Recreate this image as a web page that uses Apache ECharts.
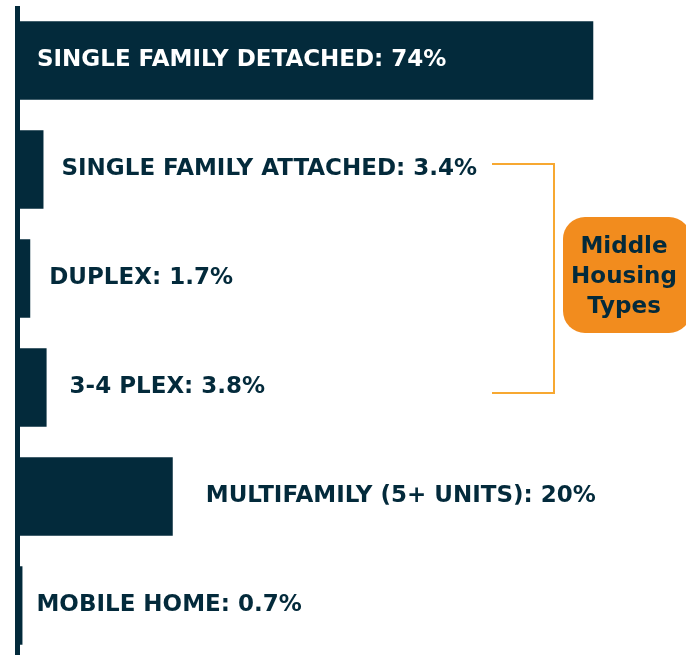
<!DOCTYPE html>
<html>
<head>
<meta charset="utf-8">
<script src="https://cdn.jsdelivr.net/npm/echarts@6/dist/echarts.min.js"></script>
<style>
  html, body { margin: 0; padding: 0; background: #fff; }
  #chart { width: 686px; height: 655px; }
</style>
</head>
<body>
<div id="chart"></div>
<script>
const categories = [
  "SINGLE FAMILY DETACHED",
  "SINGLE FAMILY ATTACHED",
  "DUPLEX",
  "3-4 PLEX",
  "MULTIFAMILY (5+ UNITS)",
  "MOBILE HOME"
];
const shares = [74, 3.4, 1.7, 3.8, 20, 0.7];
const shareLabels = ["74%", "3.4%", "1.7%", "3.8%", "20%", "0.7%"];
const boxText = "Middle\nHousing\nTypes";

const navy = "#032a3b";
const orange = "#f28c1e";
const font = "DejaVu Sans";

// label gap after each bar
const labelGap = [20, 18, 19, 23, 33, 14];

const chart = echarts.init(document.getElementById("chart"));

const seriesData = shares.map((v, i) => {
  const inside = i === 0;
  return {
    value: v,
    label: {
      position: inside ? "insideLeft" : "right",
      distance: labelGap[i],
      color: inside ? "#ffffff" : navy
    }
  };
});

const option = {
  animation: false,
  grid: { left: 17, right: 46, top: 6, height: 654, outerBoundsMode: "none" },
  xAxis: {
    type: "value",
    min: 0,
    max: 80,
    show: false
  },
  yAxis: {
    type: "category",
    inverse: true,
    data: categories,
    axisLine: { show: true, lineStyle: { color: navy, width: 5, cap: "butt" } },
    axisTick: { show: false },
    axisLabel: { show: false },
    z: 5
  },
  series: [
    {
      type: "bar",
      data: seriesData,
      barCategoryGap: "28%",
      itemStyle: { color: navy },
      label: {
        show: true,
        fontFamily: font,
        fontWeight: "bold",
        fontSize: 23,
        padding: [4, 0, 0, 0],
        formatter: (p) => categories[p.dataIndex] + ": " + shareLabels[p.dataIndex]
      }
    }
  ],
  graphic: [
    {
      type: "polyline",
      shape: { points: [[492, 164], [554, 164], [554, 393], [492, 393]] },
      style: { stroke: "#f7a831", lineWidth: 2, fill: null }
    },
    {
      type: "rect",
      shape: { x: 563, y: 217, width: 128, height: 116, r: 22 },
      style: { fill: orange }
    },
    {
      type: "text",
      x: 624,
      y: 277,
      style: {
        text: boxText,
        fill: navy,
        font: "bold 23px " + font,
        lineHeight: 30,
        align: "center",
        verticalAlign: "middle"
      }
    }
  ]
};

chart.setOption(option);
</script>
</body>
</html>
